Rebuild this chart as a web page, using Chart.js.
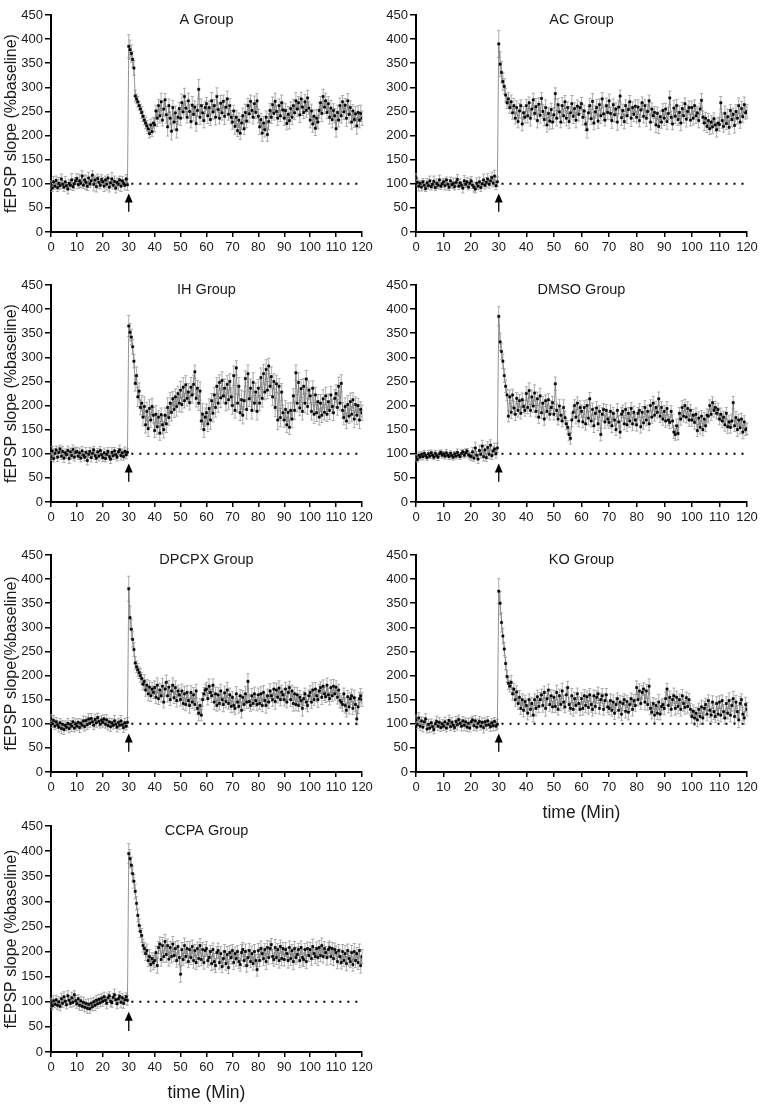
<!DOCTYPE html>
<html lang="en">
<head>
<meta charset="UTF-8" />
<title>fEPSP slope after HFS, seven groups</title>
<script src="https://cdn.jsdelivr.net/npm/chart.js"></script>
<style>
  body { margin: 0; background: #fff; }
  #page { position: relative; width: 767px; height: 1104px; overflow: hidden; }
  #page canvas { position: absolute; }
</style>
</head>
<body>
<div id="page">
  <canvas id="cA" width="380" height="262" style="left:0;top:0"></canvas>
  <canvas id="cAC" width="387" height="262" style="left:380px;top:0"></canvas>
  <canvas id="cIH" width="380" height="262" style="left:0;top:270px"></canvas>
  <canvas id="cDMSO" width="387" height="262" style="left:380px;top:270px"></canvas>
  <canvas id="cDPCPX" width="380" height="262" style="left:0;top:539px"></canvas>
  <canvas id="cKO" width="387" height="290" style="left:380px;top:539px"></canvas>
  <canvas id="cCCPA" width="380" height="294" style="left:0;top:810px"></canvas>
</div>

<script>
  // sweeps every 0.5 min, t = 0 .. 120 ; one row = 10 min
  const STEP_MIN = 0.5;
  const xTickValues = [0, 10, 20, 30, 40, 50, 60, 70, 80, 90, 100, 110, 120];
  const yTickValues = [0, 50, 100, 150, 200, 250, 300, 350, 400, 450];
  const baselinePct = 100;
  const dotFrom = 31, dotTo = 120;       // dotted 100% line
  const hfsAt = 30, arrowTail = 42, arrowTip = 80;

  const aMean = [
    98,91,104,95,107,92,101,96,110,99,93,104,96,89,101,97,108,94,100,106,
    111,98,106,101,116,97,108,103,95,112,100,106,118,99,108,94,111,103,97,109,
    104,95,108,99,112,93,102,110,97,105,91,103,99,108,95,106,101,97,110,98,
    385,378,370,358,340,282,276,270,262,255,248,240,232,226,220,214,204,222,208,226,
    222,251,236,262,241,270,232,255,274,243,218,262,236,209,258,228,247,212,238,256,
    236,268,249,281,257,238,272,250,229,263,244,259,225,252,296,238,262,247,231,258,
    266,241,258,233,272,249,262,238,281,254,236,267,247,271,240,259,276,244,262,238,
    228,251,219,238,210,232,205,226,241,214,248,230,262,245,271,252,238,266,248,272,
    240,218,233,205,226,212,238,202,229,252,238,264,246,271,250,236,262,241,268,253,
    236,252,225,244,231,256,238,262,247,272,255,268,243,276,259,248,270,252,278,257,
    232,251,224,240,215,236,228,252,268,246,281,259,272,248,266,238,257,233,252,241,
    214,248,232,262,241,270,249,263,236,272,244,258,228,251,233,245,220,248,232,246,
    236
  ];
  const aSem = [
    8,7,11,6,9,8,12,7,10,8,9,11,7,10,8,9,13,8,10,7,
    10,8,13,9,11,7,10,15,9,12,8,10,9,14,8,11,9,12,8,10,
    9,11,8,12,7,10,9,13,8,11,10,9,12,8,11,9,7,10,9,12,
    24,20,18,16,15,12,10,11,9,10,12,11,10,12,11,10,9,12,10,11,
    14,12,17,13,15,18,12,16,13,17,19,14,13,18,15,16,14,17,15,13,
    15,18,13,17,14,12,16,15,13,18,14,13,16,12,20,15,14,17,15,13,
    13,16,14,12,17,15,13,16,18,14,12,16,15,13,17,14,16,12,15,14,
    15,12,16,14,12,15,13,14,16,12,17,14,15,18,13,15,14,16,13,15,
    14,16,13,17,14,15,13,14,17,15,13,16,14,17,13,15,14,12,16,15,
    15,14,13,16,17,14,15,13,14,17,15,13,16,14,17,13,15,14,16,13,
    16,14,17,13,15,18,14,16,13,17,15,14,16,13,15,14,16,17,14,15,
    17,15,14,16,15,13,16,14,17,15,18,14,15,13,16,15,17,14,16,17,
    15
  ];

  const acMean = [
    112,103,95,101,93,104,97,90,102,96,106,94,99,105,92,101,97,108,95,100,
    104,96,108,99,93,106,98,101,94,103,109,95,102,97,91,106,99,104,93,101,
    106,97,93,89,101,95,104,92,100,108,97,103,110,99,106,113,101,116,96,104,
    390,348,331,312,302,284,268,276,258,270,247,262,236,258,229,251,262,224,247,238,
    262,241,268,236,255,274,246,260,231,265,242,277,250,233,258,222,246,230,254,228,
    243,287,236,264,249,228,262,241,270,236,258,229,247,266,240,256,232,261,244,258,
    266,238,251,224,212,247,262,235,271,226,249,258,230,264,241,276,245,232,262,248,
    272,246,231,264,243,255,228,259,282,237,252,229,262,241,254,270,236,258,244,261,
    238,259,231,253,268,240,262,236,250,272,228,255,241,248,222,246,219,239,228,252,
    236,255,229,246,278,238,224,257,240,262,233,248,226,256,241,266,234,250,258,232,
    258,236,262,241,247,231,255,273,238,226,236,219,231,214,228,218,235,222,212,226,
    223,268,231,219,246,225,239,217,252,233,244,221,250,236,262,228,256,239,264,247,
    250
  ];
  const acSem = [
    9,7,10,6,8,7,10,6,9,7,10,7,8,11,6,9,7,10,7,8,
    7,9,6,10,7,8,6,11,7,9,10,7,8,6,10,11,7,9,6,10,
    9,7,10,8,11,7,10,8,7,12,8,10,11,8,10,11,7,12,8,10,
    28,26,22,18,16,14,12,13,12,14,13,15,12,14,13,16,12,14,13,12,
    13,15,12,16,13,14,12,17,15,13,16,12,14,13,16,15,12,17,13,14,
    15,12,16,13,14,12,17,15,13,16,12,14,13,17,15,12,16,13,14,12,
    13,16,12,14,17,13,15,12,16,14,13,17,15,12,16,13,14,12,16,15,
    14,13,16,12,15,13,17,14,12,16,13,15,12,16,14,13,17,12,15,13,
    12,15,13,16,12,14,13,17,15,12,16,13,14,12,16,13,15,12,13,14,
    15,12,16,13,14,13,12,16,15,13,12,14,16,13,15,12,16,13,14,12,
    13,14,12,16,13,15,12,14,13,16,12,13,15,12,13,14,12,13,15,12,
    14,13,16,12,15,13,16,14,12,15,13,16,14,12,16,13,15,12,16,13,
    14
  ];

  const ihMean = [
    94,106,90,101,108,93,103,110,95,105,91,102,98,107,90,104,96,109,93,103,
    105,95,102,91,106,97,93,103,86,99,105,92,101,108,96,91,104,95,107,98,
    92,102,90,99,105,94,89,103,96,106,98,93,104,108,96,102,94,105,98,103,
    365,352,342,322,292,246,262,218,230,196,205,176,198,160,188,152,194,170,198,180,
    148,182,156,176,143,181,160,150,180,162,196,175,205,186,214,192,218,198,225,205,
    232,202,238,210,243,215,228,206,238,222,244,270,215,236,205,230,168,182,150,176,
    185,162,194,170,210,184,222,196,240,205,248,216,252,220,236,205,244,212,250,218,
    200,262,190,278,205,240,185,212,180,210,256,192,266,214,236,190,248,205,228,188,
    236,205,258,215,266,228,275,232,282,240,260,218,250,196,245,170,240,175,228,185,
    170,192,160,186,155,190,172,220,190,268,205,248,195,235,188,240,205,255,198,232,
    220,188,236,182,222,185,208,176,205,180,214,186,220,182,208,190,222,198,185,215,
    225,196,240,205,246,190,175,198,168,202,178,208,182,212,172,202,180,200,170,192,
    185
  ];
  const ihSem = [
    8,9,7,10,8,9,11,8,7,10,9,8,7,9,10,8,7,9,8,10,
    9,7,10,8,9,7,8,10,9,7,8,9,10,7,8,9,7,10,8,9,
    8,10,7,9,8,7,9,10,8,7,9,8,7,10,9,8,7,9,8,7,
    22,18,16,15,14,16,18,20,17,15,16,18,20,17,19,16,18,15,17,16,
    14,18,16,13,15,14,19,17,15,18,20,16,22,18,15,17,16,20,15,18,
    18,16,20,15,19,16,18,15,20,17,19,14,18,16,15,19,17,22,16,19,
    18,16,20,19,15,18,16,20,18,19,16,20,18,15,19,16,18,20,16,19,
    18,20,16,15,19,18,16,20,18,19,16,20,18,16,19,18,20,16,19,18,
    18,16,20,18,19,16,20,18,16,19,20,18,16,19,18,20,16,19,18,16,
    15,18,16,19,15,16,18,15,19,16,18,20,16,19,18,16,20,18,16,19,
    16,18,15,19,16,18,15,16,18,15,19,16,18,15,16,19,18,15,16,18,
    18,16,19,15,18,16,15,18,16,19,15,18,16,15,18,16,19,15,18,16,
    16
  ];

  const dmsoMean = [
    92,88,97,93,99,94,101,96,92,100,95,102,97,93,101,96,93,100,103,97,
    100,95,102,97,94,101,96,93,100,95,103,97,94,101,104,97,102,106,98,96,
    94,104,91,112,97,89,107,99,116,94,108,92,113,99,118,96,106,110,100,112,
    385,332,312,292,262,240,222,178,218,186,222,195,182,215,190,210,184,212,198,190,
    225,196,231,190,218,199,226,188,214,176,220,185,205,172,210,188,212,182,196,206,
    182,245,190,172,199,180,168,196,175,162,155,140,132,170,186,200,176,205,168,196,
    188,166,196,162,200,174,214,168,192,158,184,195,162,188,140,182,192,166,190,172,
    165,188,158,184,170,150,190,166,145,182,188,162,192,160,184,168,194,162,186,170,
    160,184,190,156,186,164,196,170,188,162,200,176,205,180,196,186,214,178,196,172,
    188,168,194,170,165,188,168,145,140,158,142,184,172,196,178,200,176,194,170,190,
    170,180,165,182,148,174,155,178,150,172,158,180,178,200,182,206,190,196,184,192,
    172,182,168,176,160,184,156,166,155,168,206,158,175,150,170,154,172,145,166,150,
    152
  ];
  const dmsoSem = [
    6,5,7,6,5,7,6,5,6,7,5,6,7,5,6,5,7,6,5,6,
    5,6,7,5,6,5,7,6,5,6,7,5,6,7,5,6,8,5,6,7,
    8,9,7,12,8,9,11,8,12,9,10,8,12,9,11,8,9,12,9,10,
    20,18,16,15,14,13,12,12,14,13,12,14,13,12,14,13,12,14,13,12,
    14,13,16,12,14,13,17,12,14,13,16,12,14,13,12,14,13,12,14,13,
    12,14,13,12,14,13,12,16,13,12,14,13,12,14,13,12,14,13,12,14,
    13,12,14,13,12,14,13,12,13,14,12,13,14,12,13,14,12,13,12,14,
    12,13,14,12,13,12,14,13,12,14,13,12,13,14,12,13,12,14,13,12,
    13,12,14,13,12,13,14,12,13,14,12,13,14,12,13,12,14,13,12,13,
    12,13,14,12,13,12,14,13,12,14,13,12,13,14,12,13,12,14,13,12,
    13,12,14,13,12,13,14,12,13,14,12,13,14,12,13,12,14,13,12,13,
    12,13,14,12,13,12,14,13,12,14,13,12,13,14,12,13,12,14,13,12,
    12
  ];

  const dpcpxMean = [
    110,100,107,95,104,98,93,102,90,99,88,97,93,101,90,99,95,104,91,100,
    95,103,92,101,97,106,94,107,98,110,101,111,104,97,109,102,113,105,99,108,
    103,110,99,108,96,104,94,102,97,106,99,93,103,97,106,98,92,102,95,103,
    380,320,296,275,254,226,218,212,206,200,194,182,188,170,180,162,176,158,172,165,
    175,155,180,152,170,158,178,145,172,186,158,176,150,168,180,154,175,148,168,160,
    150,168,142,162,140,165,148,138,165,145,160,140,168,132,122,138,118,150,162,170,
    172,152,178,165,158,180,145,162,138,160,142,168,150,140,164,146,170,142,160,136,
    155,138,132,162,145,136,158,128,155,140,162,145,188,146,138,158,142,162,148,140,
    160,142,162,138,165,148,138,158,145,168,158,150,172,146,170,155,174,150,166,160,
    150,172,145,165,175,150,168,142,162,140,160,138,155,148,132,152,162,145,138,158,
    165,145,170,150,172,158,150,168,175,155,178,162,156,180,160,152,175,158,178,162,
    176,155,170,148,145,140,162,138,128,156,135,152,158,132,154,140,110,135,152,158,
    150
  ];
  const dpcpxSem = [
    9,8,10,7,9,8,10,9,11,8,10,9,8,10,9,8,11,9,8,10,
    9,8,10,9,8,10,9,8,10,11,9,10,8,9,11,10,9,10,8,9,
    10,9,8,11,9,8,10,9,8,11,9,10,8,9,11,8,10,9,8,10,
    26,24,20,16,14,13,12,13,12,14,13,12,14,13,12,14,13,12,14,13,
    14,13,15,12,14,13,16,12,14,15,13,14,12,13,15,12,14,13,12,14,
    13,14,12,15,13,14,12,16,14,13,15,12,14,13,16,14,12,14,13,12,
    14,13,15,12,14,13,16,14,12,15,13,14,12,15,14,13,16,12,14,13,
    12,14,13,15,12,14,13,16,14,12,15,13,16,14,12,15,13,14,12,13,
    14,12,15,13,14,12,16,14,13,15,12,14,13,16,14,12,15,13,14,12,
    13,14,12,15,13,14,12,16,14,13,15,12,14,13,16,14,12,14,13,12,
    14,13,15,12,14,13,16,14,12,15,13,14,12,15,14,13,16,12,14,13,
    13,14,12,15,13,14,12,16,14,13,15,12,14,13,16,14,12,14,13,15,
    14
  ];

  const koMean = [
    108,98,112,95,106,93,104,110,89,99,91,102,94,88,100,105,95,103,92,100,
    95,104,91,100,107,94,103,97,92,105,98,109,101,95,106,97,104,93,101,91,
    104,108,96,106,93,101,105,95,103,92,104,97,106,98,94,102,96,105,95,99,
    375,350,310,282,255,225,198,184,178,186,162,172,150,166,142,155,132,150,128,146,
    138,122,150,130,142,118,150,132,156,136,150,160,138,165,132,152,170,140,158,135,
    155,136,165,130,158,140,168,145,135,160,175,140,132,158,130,152,138,162,142,130,
    152,132,158,138,156,134,160,140,130,158,136,155,162,132,150,158,130,148,160,135,
    132,148,128,145,122,140,152,128,145,120,142,150,126,146,124,140,152,130,148,138,
    175,150,168,142,165,172,145,168,140,178,132,124,142,118,138,122,145,120,136,140,
    132,152,172,138,155,130,150,158,132,155,136,150,130,158,142,134,154,136,150,130,
    115,126,112,122,108,130,115,135,112,132,140,120,148,128,118,145,125,115,142,120,
    145,118,148,125,112,142,122,148,118,138,152,115,145,125,108,142,150,120,112,140,
    130
  ];
  const koSem = [
    10,8,11,9,8,10,9,11,8,10,9,8,10,9,8,11,9,10,8,9,
    9,10,8,9,11,8,10,9,8,10,11,9,8,10,9,11,8,9,10,8,
    9,8,10,11,8,9,10,8,9,11,8,10,9,8,10,9,11,8,9,10,
    26,24,20,16,14,13,12,13,12,14,13,12,14,13,12,14,13,12,14,13,
    13,14,12,15,13,14,12,16,14,13,15,12,14,13,16,14,12,14,13,12,
    14,13,15,12,14,13,16,14,12,15,13,14,12,15,14,13,16,12,14,13,
    12,14,13,15,12,14,13,16,14,12,15,13,14,12,13,15,12,14,13,12,
    13,14,12,15,13,14,12,16,14,13,15,12,14,13,16,14,12,14,13,12,
    14,13,15,12,14,13,16,14,12,15,13,14,12,15,14,13,16,12,14,13,
    13,14,12,15,13,14,12,16,14,13,15,12,14,13,16,14,12,14,13,12,
    14,13,15,12,14,13,16,14,12,15,13,14,12,15,14,13,16,12,14,13,
    13,14,12,15,13,14,12,16,14,13,15,12,14,13,16,14,12,14,13,15,
    14
  ];

  const ccpaMean = [
    98,92,102,95,104,93,100,91,106,97,110,101,94,112,103,97,108,99,114,102,
    96,106,93,102,91,99,89,97,87,95,86,97,90,100,93,103,96,105,98,107,
    101,110,103,97,108,112,101,98,109,114,104,96,106,111,99,108,97,104,110,103,
    395,385,372,355,340,320,296,272,252,240,232,212,206,196,202,182,190,174,186,178,
    182,198,172,208,215,184,212,190,220,194,212,185,208,190,215,192,206,182,210,188,
    155,204,184,212,190,206,180,204,188,210,182,202,178,206,186,212,184,204,178,202,
    206,182,188,200,176,204,180,172,198,202,178,196,170,186,200,176,194,168,198,188,
    202,178,196,186,200,180,174,198,204,182,200,172,188,202,180,196,176,200,182,164,
    202,182,206,196,186,204,180,208,188,206,214,190,184,208,188,204,182,210,186,206,
    184,204,196,182,208,186,202,180,206,188,194,204,182,208,188,184,204,180,206,192,
    204,186,210,196,190,206,188,208,192,212,190,206,198,188,204,208,190,206,186,204,
    198,180,202,190,178,200,182,196,176,202,186,180,198,174,200,182,196,178,202,172,
    190
  ];
  const ccpaSem = [
    9,8,10,7,9,8,10,9,11,8,10,9,8,10,9,8,11,9,8,10,
    9,8,10,9,8,10,9,8,10,11,9,10,8,9,11,10,9,10,8,9,
    10,9,8,11,9,8,10,9,8,11,9,10,8,9,11,8,10,9,8,10,
    20,18,16,15,14,14,13,13,12,12,14,13,12,14,13,12,14,13,12,14,
    14,13,15,12,14,13,16,12,14,15,13,14,12,13,15,12,14,13,12,14,
    16,14,12,15,13,14,12,16,14,13,15,12,14,13,16,14,12,14,13,12,
    14,13,15,12,14,13,16,14,12,15,13,14,12,15,14,13,16,12,14,13,
    12,14,13,15,12,14,13,16,14,12,15,13,16,14,12,15,13,14,12,13,
    14,12,15,13,14,12,16,14,13,15,12,14,13,16,14,12,15,13,14,12,
    13,14,12,15,13,14,12,16,14,13,15,12,14,13,16,14,12,14,13,12,
    14,13,15,12,14,13,16,14,12,15,13,14,12,15,14,13,16,12,14,13,
    13,14,12,15,13,14,12,16,14,13,15,12,14,13,16,14,12,14,13,15,
    14
  ];

  const FONT = '"Liberation Sans", Arial, Helvetica, sans-serif';
  const TEXT = '#1a1a1a';

  // mean +/- SEM bars, drawn under the points
  const errorBars = {
    id: 'errorBars',
    beforeDatasetsDraw(chart, args, opts) {
      const { ctx, scales: { x, y } } = chart;
      const mean = opts.mean, sem = opts.sem;
      ctx.save();
      ctx.strokeStyle = '#999';
      ctx.lineWidth = 0.8;
      ctx.beginPath();
      for (let i = 0; i < mean.length; i++) {
        if (sem[i] == null) continue;
        const px = x.getPixelForValue(i * STEP_MIN);
        const top = y.getPixelForValue(mean[i] + sem[i]);
        const bot = y.getPixelForValue(mean[i] - sem[i]);
        ctx.moveTo(px, top); ctx.lineTo(px, bot);
        ctx.moveTo(px - 1.6, top); ctx.lineTo(px + 1.6, top);
        ctx.moveTo(px - 1.6, bot); ctx.lineTo(px + 1.6, bot);
      }
      ctx.stroke();
      ctx.restore();
    }
  };

  // group title, axis titles and the HFS arrow
  const panelText = {
    id: 'panelText',
    afterDraw(chart, args, o) {
      const { ctx, chartArea: a, scales: { x, y } } = chart;
      const cx = (a.left + a.right) / 2;
      ctx.save();
      ctx.fillStyle = TEXT;
      ctx.textAlign = 'center';
      ctx.textBaseline = 'middle';
      ctx.font = '14.5px ' + FONT;
      ctx.fillText(o.title, cx, a.top + 5);
      if (o.yTitle) {
        ctx.save();
        ctx.translate(12, (a.top + a.bottom) / 2);
        ctx.rotate(-Math.PI / 2);
        ctx.font = '16px ' + FONT;
        ctx.fillText(o.yTitle, 0, 0);
        ctx.restore();
      }
      if (o.xTitle) {
        ctx.font = '17.5px ' + FONT;
        ctx.fillText(o.xTitle, cx, o.xTitleY);
      }
      const ax = x.getPixelForValue(hfsAt);
      const tip = y.getPixelForValue(arrowTip);
      const tail = y.getPixelForValue(arrowTail);
      ctx.strokeStyle = '#000';
      ctx.fillStyle = '#000';
      ctx.lineWidth = 1.3;
      ctx.beginPath(); ctx.moveTo(ax, tail); ctx.lineTo(ax, tip + 6); ctx.stroke();
      ctx.beginPath();
      ctx.moveTo(ax, tip); ctx.lineTo(ax - 4, tip + 9); ctx.lineTo(ax + 4, tip + 9);
      ctx.closePath(); ctx.fill();
      ctx.restore();
    }
  };

  function makePanel(p) {
    const pts = p.mean.map((v, i) => ({ x: i * STEP_MIN, y: v }));
    const tickFont = { family: FONT, size: 13 };
    new Chart(document.getElementById(p.id), {
      type: 'line',
      data: {
        datasets: [
          {
            data: pts,
            borderColor: '#7a7a7a',
            borderWidth: 0.8,
            pointStyle: 'rect',
            pointRadius: 1.6,
            pointBackgroundColor: '#000',
            pointBorderColor: '#000',
            pointBorderWidth: 0.5,
            tension: 0
          },
          {
            data: [{ x: dotFrom, y: baselinePct }, { x: dotTo, y: baselinePct }],
            borderColor: '#000',
            borderWidth: 2,
            borderDash: [2, 6],
            borderCapStyle: 'butt',
            pointRadius: 0
          }
        ]
      },
      options: {
        responsive: false,
        animation: false,
        events: [],
        layout: { padding: { left: 0, right: p.padRight, top: p.padTop, bottom: 0 } },
        plugins: {
          legend: { display: false },
          tooltip: { enabled: false },
          errorBars: { mean: p.mean, sem: p.sem },
          panelText: { title: p.title, yTitle: p.yTitle, xTitle: p.xTitle, xTitleY: p.xTitleY }
        },
        scales: {
          x: {
            type: 'linear', min: 0, max: 120,
            afterBuildTicks: s => { s.ticks = xTickValues.map(v => ({ value: v })); },
            afterFit: s => { s.height = p.xAxisH; },
            border: { display: true, color: '#000', width: 2 },
            grid: { drawOnChartArea: false, drawTicks: true, tickLength: 5, color: '#000', lineWidth: 1.5 },
            ticks: { color: TEXT, font: tickFont, padding: 3, maxRotation: 0, autoSkip: false }
          },
          y: {
            type: 'linear', min: 0, max: 450,
            afterBuildTicks: s => { s.ticks = yTickValues.map(v => ({ value: v })); },
            afterFit: s => { s.width = p.yAxisW; },
            border: { display: true, color: '#000', width: 2 },
            grid: { drawOnChartArea: false, drawTicks: true, tickLength: 6, color: '#000', lineWidth: 1.5 },
            ticks: { color: TEXT, font: tickFont, padding: 2, autoSkip: false }
          }
        }
      },
      plugins: [errorBars, panelText]
    });
  }

  const leftCol = { yAxisW: 51, padRight: 18 };
  const rightCol = { yAxisW: 36, padRight: 20 };
  const yTitle = 'fEPSP slope (%baseline)';

  makePanel({ id: 'cA', title: 'A Group', mean: aMean, sem: aSem, yTitle, ...leftCol, padTop: 15, xAxisH: 30 });
  makePanel({ id: 'cAC', title: 'AC Group', mean: acMean, sem: acSem, ...rightCol, padTop: 15, xAxisH: 30 });
  makePanel({ id: 'cIH', title: 'IH Group', mean: ihMean, sem: ihSem, yTitle, ...leftCol, padTop: 15, xAxisH: 30 });
  makePanel({ id: 'cDMSO', title: 'DMSO Group', mean: dmsoMean, sem: dmsoSem, ...rightCol, padTop: 15, xAxisH: 30 });
  makePanel({ id: 'cDPCPX', title: 'DPCPX Group', mean: dpcpxMean, sem: dpcpxSem, yTitle: 'fEPSP slope(%baseline)', ...leftCol, padTop: 16, xAxisH: 29 });
  makePanel({ id: 'cKO', title: 'KO Group', mean: koMean, sem: koSem, ...rightCol, padTop: 16, xAxisH: 57, xTitle: 'time (Min)', xTitleY: 274 });
  makePanel({ id: 'cCCPA', title: 'CCPA Group', mean: ccpaMean, sem: ccpaSem, yTitle, ...leftCol, padTop: 16, xAxisH: 52, xTitle: 'time (Min)', xTitleY: 283 });
</script>
</body>
</html>
